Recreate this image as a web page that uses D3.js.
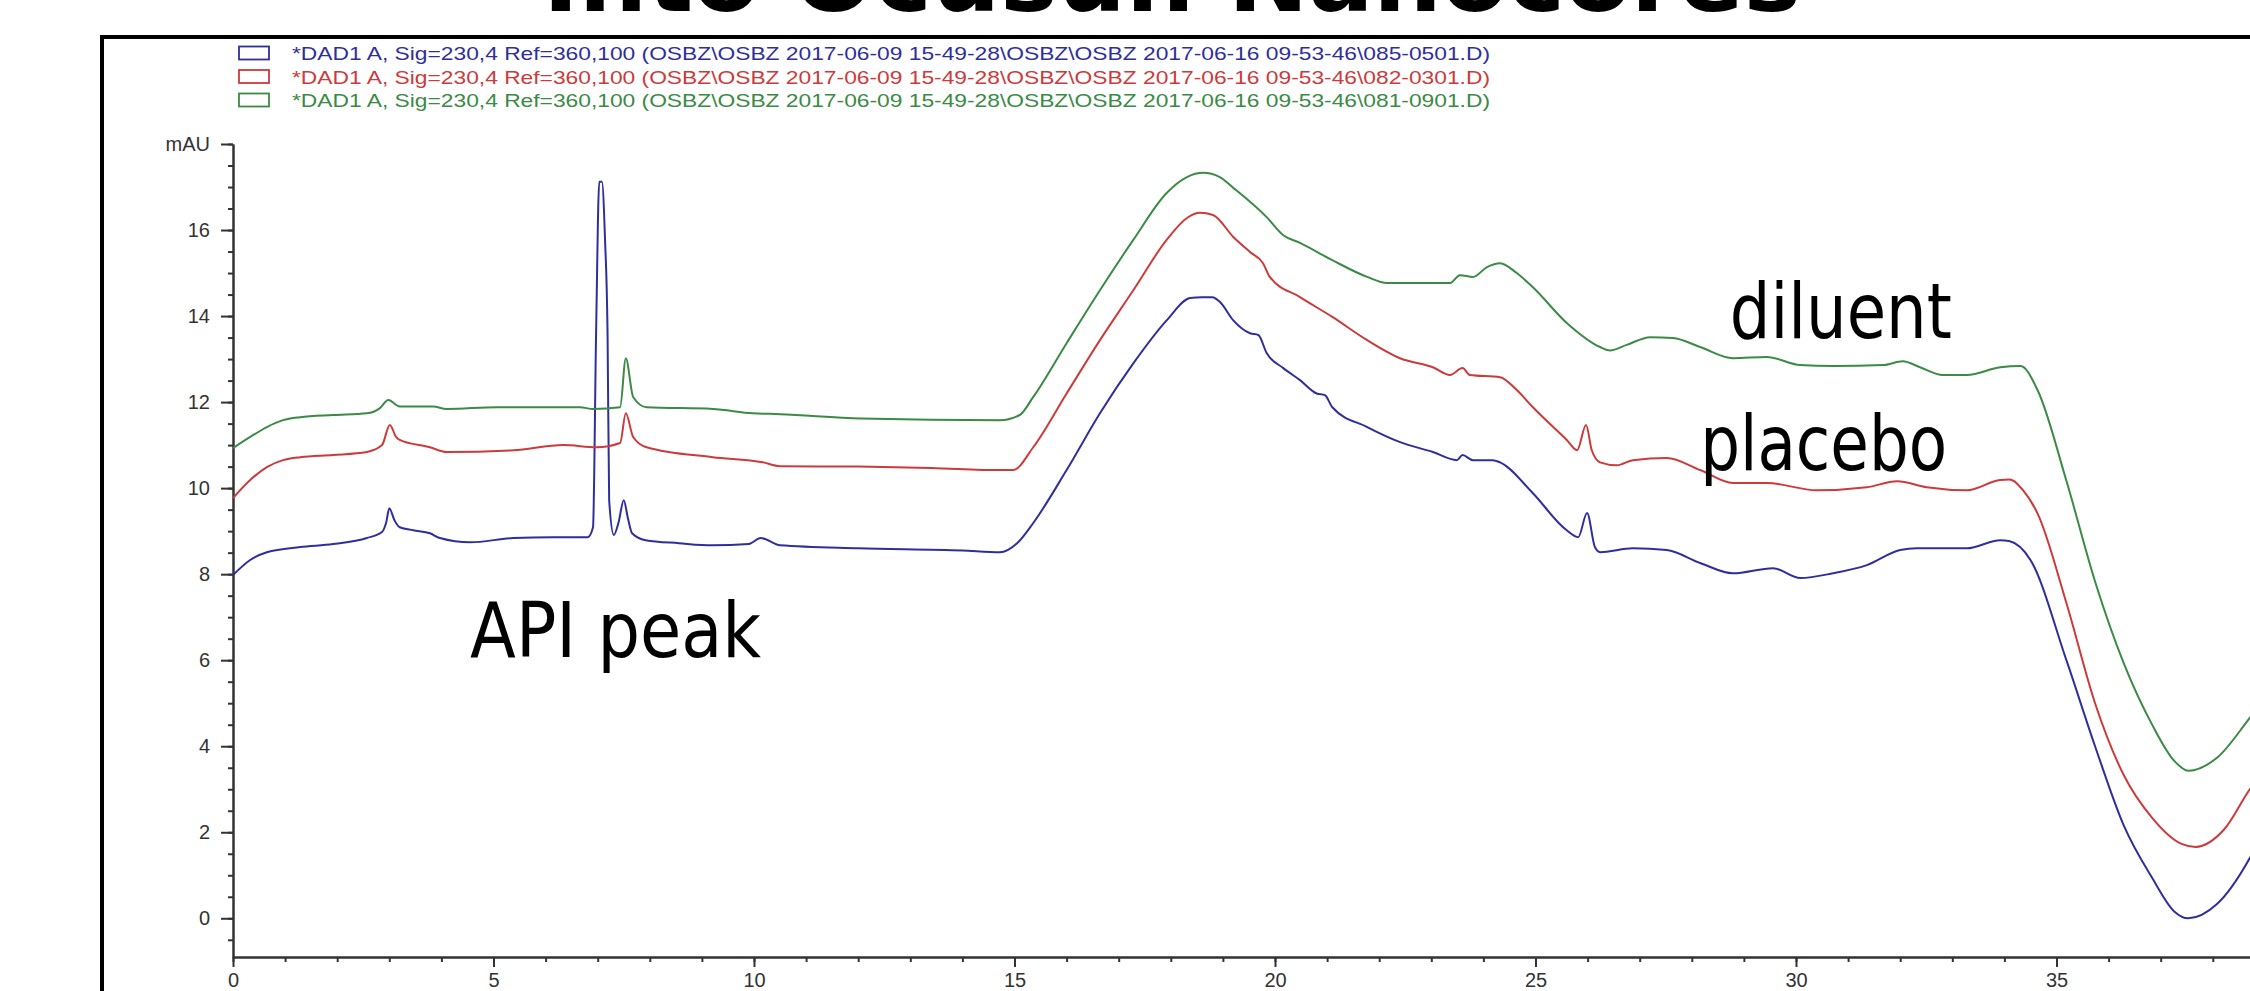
<!DOCTYPE html>
<html>
<head>
<meta charset="utf-8">
<script src="https://cdn.jsdelivr.net/npm/d3@7"></script>
<style>
    body { margin: 0; background: #fff; }
    svg { display: block; }
</style>
</head>
<body>
<script>
const SVG_DIM = {W: 2250, H: 991};
const PLOT = {LEFT: 233, RIGHT: 2317, TOP: 144, BOTTOM: 957};

const TITLE = 'Into Ocusun Nanocores';

const LEGEND_LABELS = [
    '*DAD1 A, Sig=230,4 Ref=360,100 (OSBZ\\OSBZ 2017-06-09 15-49-28\\OSBZ\\OSBZ 2017-06-16 09-53-46\\085-0501.D)',
    '*DAD1 A, Sig=230,4 Ref=360,100 (OSBZ\\OSBZ 2017-06-09 15-49-28\\OSBZ\\OSBZ 2017-06-16 09-53-46\\082-0301.D)',
    '*DAD1 A, Sig=230,4 Ref=360,100 (OSBZ\\OSBZ 2017-06-09 15-49-28\\OSBZ\\OSBZ 2017-06-16 09-53-46\\081-0901.D)'
];
const COLORS = ['#2f2f9c', '#cc3b3b', '#3b8a45'];

const X_TICKS = [0, 5, 10, 15, 20, 25, 30, 35];
const Y_TICKS = [0, 2, 4, 6, 8, 10, 12, 14, 16];
const Y_UNIT = {value: 18, label: 'mAU'};

// blue trace (085-0501.D)
const TIME_BLUE = [0, 0.33, 0.65, 1.29, 1.92, 2.57, 2.86, 2.94, 3.0, 3.1, 3.2, 3.46, 3.78, 3.97, 4.55, 5.38, 6.14, 6.81,
    6.91, 6.97, 7.03, 7.08, 7.14, 7.19, 7.22, 7.31, 7.4, 7.5, 7.58, 7.66, 7.92, 8.56, 9.2, 9.9, 10.13, 10.5, 12.0, 14.0,
    14.72, 15.05, 15.36, 16.0, 16.64, 17.28, 17.92, 18.37, 18.6, 18.8, 18.94, 19.2, 19.52, 19.68, 19.84, 20.16, 20.48,
    20.8, 20.96, 21.1, 21.77, 22.4, 23.03, 23.49, 23.6, 23.8, 24.18, 24.32, 24.95, 25.6, 25.82, 25.99, 26.14, 26.24,
    26.87, 27.52, 28.16, 28.79, 29.56, 30.08, 30.71, 31.36, 32.0, 32.32, 33.28, 33.92, 34.09, 34.5, 35.19, 35.74, 36.29,
    36.84, 37.26, 37.53, 38.08, 38.71, 38.8];
const MAU_BLUE = [7.98, 8.33, 8.51, 8.63, 8.7, 8.84, 8.98, 9.2, 9.53, 9.25, 9.09, 9.02, 8.95, 8.84, 8.74, 8.84, 8.86, 8.86,
    9.09, 13.67, 17.12, 17.12, 15.8, 13.51, 9.72, 8.91, 9.2, 9.72, 9.3, 8.95, 8.79, 8.72, 8.67, 8.7, 8.84, 8.67, 8.6, 8.55,
    8.51, 8.72, 9.19, 10.42, 11.74, 12.9, 13.9, 14.42, 14.44, 14.44, 14.33, 13.9, 13.6, 13.56, 13.14, 12.79, 12.51,
    12.2, 12.16, 11.88, 11.42, 11.07, 10.84, 10.65, 10.77, 10.65, 10.65, 10.6, 9.88, 9.02, 8.86, 9.42, 8.63, 8.51,
    8.6, 8.56, 8.26, 8.02, 8.14, 7.91, 8.02, 8.21, 8.56, 8.6, 8.6, 8.79, 8.77, 8.33, 6.0, 4.0, 2.16,
    0.93, 0.16, 0.0, 0.33, 1.4, 1.6];

// red trace (082-0301.D)
const TIME_RED = [0, 0.33, 0.65, 0.96, 1.29, 1.92, 2.57, 2.86, 3.01, 3.13, 3.2, 3.78, 4.1, 5.38, 6.34, 6.98, 7.43, 7.54,
    7.68, 7.94, 9.21, 10.17, 10.5, 12.0, 13.4, 14.72, 14.97, 15.36, 16.0, 16.64, 17.28, 17.92, 18.31, 18.56, 18.81, 19.2,
    19.52, 19.77, 19.9, 20.48, 21.1, 21.77, 22.4, 23.03, 23.36, 23.6, 23.74, 24.32, 24.64, 24.95, 25.6, 25.8, 25.97,
    26.08, 26.24, 26.56, 26.87, 27.52, 28.16, 28.79, 29.44, 30.4, 31.36, 31.94, 32.51, 33.28, 33.92, 34.1, 34.36,
    34.64, 35.19, 35.74, 36.29, 36.84, 37.4, 37.67, 38.22, 38.71, 38.8];
const MAU_RED = [9.77, 10.19, 10.49, 10.65, 10.72, 10.77, 10.84, 11.0, 11.47, 11.19, 11.12, 10.95, 10.84, 10.88, 11.0, 10.95, 11.05, 11.74,
    11.19, 10.95, 10.72, 10.6, 10.51, 10.5, 10.47, 10.42, 10.42, 10.95, 12.2, 13.44, 14.6, 15.77, 16.28, 16.4, 16.35, 15.84,
    15.49, 15.23, 14.91, 14.44, 13.98, 13.44, 13.02, 12.81, 12.63, 12.79, 12.63, 12.58, 12.28, 11.88, 11.12, 10.88, 11.47,
    10.88, 10.6, 10.53, 10.65, 10.7, 10.42, 10.12, 10.12, 9.95, 10.02, 10.16, 10.02, 9.95, 10.19, 10.2, 9.95,
    9.4, 7.33, 5.0, 3.33, 2.33, 1.73, 1.66, 2.07, 3.0, 3.15];

// green trace (081-0901.D)
const TIME_GREEN = [0, 0.33, 0.65, 0.96, 1.29, 1.92, 2.57, 2.82, 2.98, 3.2, 3.84, 4.1, 5.07, 6.66, 6.91, 7.43, 7.54, 7.68,
    7.94, 9.21, 9.98, 10.5, 12.05, 14.72, 15.1, 15.36, 16.0, 16.64, 17.28, 17.92, 18.31, 18.62, 18.94, 19.2, 19.84, 20.16,
    20.48, 21.1, 21.77, 22.15, 23.36, 23.55, 23.8, 24.07, 24.32, 24.64, 24.95, 25.6, 26.24, 26.43, 26.75, 27.2, 27.64,
    28.16, 28.79, 29.44, 30.08, 30.71, 31.67, 32.05, 32.38, 32.82, 33.28, 33.92, 34.31, 34.64, 35.19, 35.74, 36.29, 36.84,
    37.26, 37.53, 38.08, 38.71, 38.8];
const MAU_GREEN = [10.93, 11.19, 11.42, 11.58, 11.65, 11.7, 11.74, 11.86, 12.05, 11.9, 11.9, 11.84, 11.88, 11.88, 11.84, 11.88, 13.02, 12.12,
    11.88, 11.84, 11.74, 11.72, 11.62, 11.58, 11.7, 12.12, 13.37, 14.6, 15.77, 16.86, 17.23, 17.33, 17.23, 16.98, 16.3, 15.88,
    15.7, 15.3, 14.91, 14.77, 14.77, 14.95, 14.91, 15.14, 15.23, 15.0, 14.67, 13.84, 13.28, 13.2, 13.33, 13.51, 13.49,
    13.28, 13.02, 13.05, 12.86, 12.84, 12.86, 12.95, 12.81, 12.63, 12.63, 12.81, 12.84, 12.27, 10.17, 7.83, 5.93, 4.49,
    3.66, 3.43, 3.73, 4.66, 4.8];

// annotations, anchored in data units (start of text, baseline)
const NOTE_TEXT = ['API peak', 'diluent', 'placebo'];
const NOTE_TIME = [4.55, 28.73, 28.16];
const NOTE_MAU = [6.07, 13.49, 10.42];
const NOTE_WIDTH = [291, 222, 247];

const SERIES = [
    TIME_BLUE.map((t, i) => [t, MAU_BLUE[i]]),
    TIME_RED.map((t, i) => [t, MAU_RED[i]]),
    TIME_GREEN.map((t, i) => [t, MAU_GREEN[i]])
];

const svg = d3.select('body').append('svg')
    .attr('width', SVG_DIM.W)
    .attr('height', SVG_DIM.H);

const x = d3.scaleLinear().domain([0, 40]).range([PLOT.LEFT, PLOT.RIGHT]);
const y = d3.scaleLinear().domain([-0.9, 18]).range([PLOT.BOTTOM, PLOT.TOP]);

// title (mostly above the page edge, as in the source)
svg.append('text')
    .attr('x', 543)
    .attr('y', 11)
    .attr('textLength', 1258)
    .attr('lengthAdjust', 'spacingAndGlyphs')
    .style('font-family', '"DejaVu Sans", Verdana, sans-serif')
    .style('font-weight', 'bold')
    .style('font-size', '94px')
    .text(TITLE);

// frame
svg.append('rect')
    .attr('x', 102)
    .attr('y', 37)
    .attr('width', 2400)
    .attr('height', 1200)
    .attr('fill', 'none')
    .attr('stroke', '#000')
    .attr('stroke-width', 4);

// legend
const legend = svg.append('g').attr('id', 'legend');
LEGEND_LABELS.forEach((label, i) => {
    const cy = 53 + i * 23.5;
    legend.append('rect')
        .attr('x', 239)
        .attr('y', cy - 6.5)
        .attr('width', 30)
        .attr('height', 13)
        .attr('fill', '#fff')
        .attr('stroke', COLORS[i])
        .attr('stroke-width', 1.8);
    legend.append('text')
        .attr('x', 292)
        .attr('y', cy + 7)
        .attr('textLength', 1198)
        .attr('lengthAdjust', 'spacingAndGlyphs')
        .attr('fill', COLORS[i])
        .style('font-family', '"Liberation Sans", Arial, sans-serif')
        .style('font-size', '19px')
        .text(label);
});

// axes
const axisStyle = g => {
    g.selectAll('path, line').attr('stroke', '#333').attr('stroke-width', 2);
    g.selectAll('text')
        .attr('fill', '#333')
        .style('font-family', '"Liberation Sans", Arial, sans-serif')
        .style('font-size', '20px');
};

svg.append('g')
    .attr('transform', 'translate(' + PLOT.LEFT + ',0)')
    .call(d3.axisLeft(y).tickValues(d3.range(-0.5, 18.01, 0.5)).tickSize(5).tickFormat('').tickSizeOuter(0))
    .call(axisStyle);

svg.append('g')
    .attr('transform', 'translate(' + PLOT.LEFT + ',0)')
    .call(d3.axisLeft(y).tickValues([...Y_TICKS, Y_UNIT.value]).tickSize(12).tickPadding(11).tickSizeOuter(0)
        .tickFormat(d => d === Y_UNIT.value ? Y_UNIT.label : d))
    .call(axisStyle);

svg.append('g')
    .attr('transform', 'translate(0,' + PLOT.BOTTOM + ')')
    .call(d3.axisBottom(x).tickValues(d3.range(0, 40, 1)).tickSize(5).tickFormat('').tickSizeOuter(0))
    .call(axisStyle);

svg.append('g')
    .attr('transform', 'translate(0,' + PLOT.BOTTOM + ')')
    .call(d3.axisBottom(x).tickValues(X_TICKS).tickSize(10).tickPadding(6).tickSizeOuter(0))
    .call(axisStyle);

// traces
const line = d3.line()
    .x(d => x(d[0]))
    .y(d => y(d[1]))
    .curve(d3.curveMonotoneX);

svg.append('g').attr('class', 'traces')
    .selectAll('path')
    .data(SERIES)
    .enter()
    .append('path')
    .attr('d', line)
    .attr('fill', 'none')
    .attr('stroke', (d, i) => COLORS[i])
    .attr('stroke-width', 2)
    .attr('stroke-linejoin', 'round');

// annotations
svg.append('g').attr('class', 'notes')
    .selectAll('text')
    .data(NOTE_TEXT)
    .enter()
    .append('text')
    .attr('x', (d, i) => x(NOTE_TIME[i]))
    .attr('y', (d, i) => y(NOTE_MAU[i]))
    .attr('textLength', (d, i) => NOTE_WIDTH[i])
    .attr('lengthAdjust', 'spacingAndGlyphs')
    .style('font-family', '"DejaVu Sans", Tahoma, sans-serif')
    .style('font-size', '76px')
    .text(d => d);
</script>
</body>
</html>
